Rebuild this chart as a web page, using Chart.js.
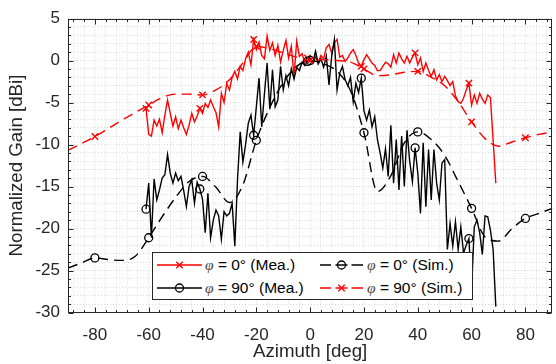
<!DOCTYPE html>
<html><head><meta charset="utf-8">
<script src="https://cdn.jsdelivr.net/npm/chart.js@4.4.0/dist/chart.umd.min.js"></script>
<style>
html,body{margin:0;padding:0;background:#fff;overflow:hidden;width:556px;height:364px;}
#wrap{position:absolute;left:0;top:0;width:560px;height:364px;}
#legendBox{position:absolute;left:152px;top:252px;width:321px;height:48px;box-sizing:border-box;border:1px solid #262626;background:#fff;}
.lt{position:absolute;font-family:'Liberation Sans',Arial,sans-serif;font-size:15.5px;color:#000;white-space:nowrap;line-height:18px;}
.lt i{font-family:'Liberation Serif','DejaVu Serif',serif;font-style:italic;color:#444;}
#lsv{position:absolute;left:0;top:0;}
</style></head>
<body>
<div id="wrap"><canvas id="c" width="560" height="364"></canvas></div>
<div id="legendBox"></div>
<svg id="lsv" width="556" height="364">
  <line x1="157" y1="265" x2="202" y2="265" stroke="#ff0000" stroke-width="1.5"/>
  <line x1="176.3" y1="261.8" x2="182.7" y2="268.2" stroke="#ff0000" stroke-width="1.4"/>
  <line x1="176.3" y1="268.2" x2="182.7" y2="261.8" stroke="#ff0000" stroke-width="1.4"/>
  <line x1="157" y1="288" x2="202" y2="288" stroke="#000" stroke-width="1.5"/>
  <circle cx="179.5" cy="288" r="4" fill="none" stroke="#000" stroke-width="1.3"/>
  <line x1="320" y1="265" x2="331" y2="265" stroke="#000" stroke-width="1.5"/>
  <line x1="335.5" y1="265" x2="347.5" y2="265" stroke="#000" stroke-width="1.5"/>
  <line x1="351.5" y1="265" x2="363" y2="265" stroke="#000" stroke-width="1.5"/>
  <circle cx="341.5" cy="265" r="4" fill="none" stroke="#000" stroke-width="1.3"/>
  <line x1="320" y1="288" x2="331" y2="288" stroke="#ff0000" stroke-width="1.5"/>
  <line x1="335.5" y1="288" x2="347.5" y2="288" stroke="#ff0000" stroke-width="1.5"/>
  <line x1="351.5" y1="288" x2="363" y2="288" stroke="#ff0000" stroke-width="1.5"/>
  <line x1="338.3" y1="284.8" x2="344.7" y2="291.2" stroke="#ff0000" stroke-width="1.4"/>
  <line x1="338.3" y1="291.2" x2="344.7" y2="284.8" stroke="#ff0000" stroke-width="1.4"/>
</svg>
<div class="lt" style="left:205px;top:256px;"><i>φ</i> = 0° (Mea.)</div>
<div class="lt" style="left:205px;top:279px;"><i>φ</i> = 90° (Mea.)</div>
<div class="lt" style="left:367px;top:256px;"><i>φ</i> = 0° (Sim.)</div>
<div class="lt" style="left:367px;top:279px;"><i>φ</i> = 90° (Sim.)</div>
<script>
// ---------- data ----------
const azMea = [
  -61,-60,-59,-58,-57,-56,-55,-54,-53,-52,
  -51,-50,-49,-48,-47,-46,-45,-44,-43,-42,
  -41,-40,-39,-38,-37,-36,-35,-34,-33,-32,
  -31,-30,-29,-28,-27,-26,-25,-24,-23,-22,
  -21,-20,-19,-18,-17,-16,-15,-14,-13,-12,
  -11,-10,-9,-8,-7,-6,-5,-4,-3,-2,
  -1,0,1,2,3,4,5,6,7,8,
  9,10,11,12,13,14,15,16,17,18,
  19,20,21,22,23,24,25,26,27,28,
  29,30,31,32,33,34,35,36,37,38,
  39,40,41,42,43,44,45,46,47,48,
  49,50,51,52,53,54,55,56,57,58,
  59,60,61,62,63,64,65,66,67,68,
  69
];
const gainPhi0Mea = [
  -5.7,-8.8,-9.0,-7.1,-7.8,-7.0,-8.6,-6.5,-4.7,-6.3,
  -7.8,-6.7,-8.1,-7.1,-8.0,-8.8,-7.7,-6.3,-7.3,-6.6,
  -5.7,-6.3,-5.1,-5.6,-4.7,-5.5,-6.2,-7.9,-3.9,-5.0,
  -2.7,-3.5,-2.0,-1.3,-2.2,-0.7,-1.2,0.2,1.0,-0.5,
  2.5,1.3,2.2,0.6,0.2,2.9,1.2,2.1,0.6,1.8,
  -0.2,1.2,2.4,0.3,1.7,-1.9,2.3,0.5,0.8,-0.2,
  0.3,0.1,-0.3,0.4,-0.2,0.6,0.2,1.5,1.9,0.9,
  2.1,2.5,0.4,0.6,-0.1,0.3,0.9,1.3,0.6,-0.3,
  -0.7,0.1,0.7,0.2,-0.3,-0.6,-1.2,-1.2,-0.7,-0.2,
  -0.4,-0.8,0.7,-0.3,0.9,0.2,-0.3,0.5,-0.3,0.4,
  0.9,-0.5,0.3,-1.3,-0.3,-1.2,-1.9,-1.1,-2.3,-1.7,
  -2.5,-1.9,-2.4,-3.0,-2.5,-4.2,-4.9,-5.1,-4.5,-3.5,
  -2.7,-5.3,-4.1,-5.1,-3.9,-4.6,-5.1,-4.1,-4.4,-9.5,
  -14.6
];
const gainPhi90Mea = [
  -17.7,-14.6,-21.1,-14.1,-16.6,-15.4,-14.0,-13.6,-11.2,-13.4,
  -14.6,-13.4,-14.3,-13.8,-15.5,-17.4,-15.0,-14.2,-17.0,-14.5,
  -15.3,-16.5,-20.5,-15.8,-21.1,-19.0,-17.8,-18.5,-21.3,-18.0,
  -18.5,-18.2,-17.0,-22.1,-14.2,-8.5,-12.1,-10.0,-7.5,-6.5,
  -8.9,-5.5,-2.1,-7.9,-4.0,-0.3,-5.8,-1.1,-5.5,-4.7,
  -0.7,-3.5,-1.8,-3.0,-1.0,-2.2,-0.8,-1.2,-0.2,-0.6,
  -0.1,0.2,-0.3,1.1,-0.4,0.2,-0.8,0.5,-2.9,0.5,
  2.5,-3.5,-1.5,-0.7,-2.3,-3.0,-2.0,-4.9,-2.7,-3.8,
  -2.1,-6.0,-7.1,-5.9,-7.9,-6.7,-9.4,-11.0,-12.8,-10.5,
  -13.8,-7.7,-14.6,-9.4,-15.4,-9.0,-15.0,-8.3,-12.0,-14.4,
  -10.4,-13.4,-18.2,-9.8,-17.4,-10.6,-16.6,-10.6,-14.6,-16.6,
  -12.2,-11.8,-22.5,-19.4,-22.1,-19.2,-22.5,-19.8,-22.9,-22.0,
  -21.2,-27.1,-19.8,-19.0,-20.5,-23.1,-18.5,-18.6,-20.2,-22.5,
  -29.3
];
const azSim = [-90,-85,-80,-75,-70,-65,-60,-55,-50,-45,-40,-35,-30,-25,-20,-15,-10,-5,0,
               5,10,15,20,25,30,35,40,45,50,55,60,65,70,75,80,85,90];
const gainPhi0Sim = [-24.7,-24.1,-23.5,-23.7,-23.8,-23.3,-21.1,-18.6,-16.3,-14.4,-13.8,-15.1,-16.9,-14.8,-9.5,-5.6,-2.6,-0.7,0.0,
               -0.4,-1.3,-3.6,-8.6,-15.6,-13.7,-9.8,-8.5,-9.4,-11.3,-14.4,-17.6,-21.0,-21.5,-20.0,-18.8,-18.2,-17.6];
const gainPhi90Sim = [-10.7,-9.9,-9.05,-8.1,-7.1,-6.2,-5.3,-4.4,-4.0,-4.0,-4.1,-3.5,-2.3,-0.3,1.7,1.4,0.9,0.4,0.0,
               0.1,0.0,-0.2,-1.0,-1.8,-1.7,-1.4,-1.3,-2.0,-3.0,-4.9,-7.3,-9.3,-10.2,-9.7,-9.2,-8.8,-8.5];
const markerAzMea = [-61,-41,-21,-1,19,39,59];
const markerAzSim = [-80,-60,-40,-20,0,20,40,60,80];
const xTickValues = [-80,-60,-40,-20,0,20,40,60,80];
const yTickValues = [-30,-25,-20,-15,-10,-5,0,5];
const xMinorStep = 4;
const yMinorStep = 1;

// ---------- chart ----------
const pts = (xs, ys) => xs.map((x, i) => ({x, y: ys[i]}));
const markerRadius = (list, r) => (c) => (c.raw && list.includes(c.raw.x)) ? r : 0;

const FONT = "'Liberation Sans', Arial, Helvetica, sans-serif";
Chart.defaults.font.family = FONT;
Chart.defaults.color = '#262626';

const boxPlugin = {
  id: 'matlabBox',
  afterDatasetsDraw(chart) {
    const {ctx, chartArea: a, scales: {x, y}} = chart;
    const L = Math.round(a.left) + 0.5, R = Math.round(a.right) - 0.5;
    const T = Math.round(a.top) + 0.5, B = Math.round(a.bottom) - 0.5;
    ctx.save();
    ctx.strokeStyle = '#262626';
    ctx.lineWidth = 1;
    ctx.setLineDash([]);
    ctx.strokeRect(L, T, R - L, B - T);
    ctx.beginPath();
    x.ticks.forEach(t => {
      const px = Math.round(x.getPixelForValue(t.value)) + 0.5;
      const len = xTickValues.includes(t.value) ? 5 : 2.5;
      ctx.moveTo(px, B); ctx.lineTo(px, B - len);
      ctx.moveTo(px, T); ctx.lineTo(px, T + len);
    });
    y.ticks.forEach(t => {
      const py = Math.round(y.getPixelForValue(t.value)) + 0.5;
      const len = yTickValues.includes(t.value) ? 5 : 2.5;
      ctx.moveTo(L, py); ctx.lineTo(L + len, py);
      ctx.moveTo(R, py); ctx.lineTo(R - len, py);
    });
    ctx.stroke();
    ctx.restore();
  }
};

new Chart(document.getElementById('c'), {
  type: 'line',
  data: {
    datasets: [
      {
        label: 'φ = 0° (Mea.)', data: pts(azMea, gainPhi0Mea),
        borderColor: '#ff0000', borderWidth: 1.4, tension: 0, order: 4,
        pointStyle: 'crossRot', pointRadius: markerRadius(markerAzMea, 4.5),
        pointBorderColor: '#ff0000', pointBorderWidth: 1.4, pointBackgroundColor: 'rgba(0,0,0,0)'
      },
      {
        label: 'φ = 90° (Mea.)', data: pts(azMea, gainPhi90Mea),
        borderColor: '#000000', borderWidth: 1.4, tension: 0, order: 3,
        pointStyle: 'circle', pointRadius: markerRadius(markerAzMea, 4),
        pointBorderColor: '#000000', pointBorderWidth: 1.3, pointBackgroundColor: 'rgba(0,0,0,0)'
      },
      {
        label: 'φ = 0° (Sim.)', data: pts(azSim, gainPhi0Sim),
        borderColor: '#000000', borderWidth: 1.4, borderDash: [10, 6], cubicInterpolationMode: 'monotone', order: 2,
        pointStyle: 'circle', pointRadius: markerRadius(markerAzSim, 4),
        pointBorderColor: '#000000', pointBorderWidth: 1.3, pointBackgroundColor: 'rgba(0,0,0,0)'
      },
      {
        label: 'φ = 90° (Sim.)', data: pts(azSim, gainPhi90Sim),
        borderColor: '#ff0000', borderWidth: 1.4, borderDash: [10, 6], cubicInterpolationMode: 'monotone', order: 1,
        pointStyle: 'crossRot', pointRadius: markerRadius(markerAzSim, 4.5),
        pointBorderColor: '#ff0000', pointBorderWidth: 1.4, pointBackgroundColor: 'rgba(0,0,0,0)'
      }
    ]
  },
  options: {
    responsive: false, animation: false, devicePixelRatio: 1, events: [],
    layout: {padding: {top: 18.5, right: 2.5, bottom: 0, left: 0}},
    plugins: {legend: {display: false}, tooltip: {enabled: false}},
    scales: {
      x: {
        type: 'linear', min: -90, max: 90,
        afterBuildTicks: (s) => {
          const t = [];
          for (let v = -88; v <= 88; v += xMinorStep) t.push({value: v});
          s.ticks = t;
        },
        ticks: {
          autoSkip: false, maxRotation: 0, minRotation: 0, padding: 13, color: '#262626',
          font: {size: 17},
          callback: (v) => xTickValues.includes(v) ? String(v) : ''
        },
        grid: {color: 'rgba(38,38,38,0.17)', lineWidth: 1, drawTicks: false, borderDash: [1, 2]},
        border: {display: false, dash: [1, 2]},
        title: {display: true, text: 'Azimuth [deg]', color: '#262626', font: {size: 18.7}, padding: {top: 0, bottom: 1}},
        afterFit: (s) => { s.height = 51.5; }
      },
      y: {
        type: 'linear', min: -30, max: 5,
        afterBuildTicks: (s) => {
          const t = [];
          for (let v = -30; v <= 5; v += yMinorStep) t.push({value: v});
          s.ticks = t;
        },
        ticks: {
          autoSkip: false, padding: 8, color: '#262626', font: {size: 17},
          callback: (v) => yTickValues.includes(v) ? String(v) : ''
        },
        grid: {color: 'rgba(38,38,38,0.17)', lineWidth: 1, drawTicks: false, borderDash: [1, 2]},
        border: {display: false, dash: [1, 2]},
        title: {display: true, text: 'Normalized Gain [dBi]', color: '#262626', font: {size: 18.7}, padding: {top: 6, bottom: 0}},
        afterFit: (s) => { s.width = 68; }
      }
    }
  },
  plugins: [boxPlugin]
});
</script>
</body></html>
